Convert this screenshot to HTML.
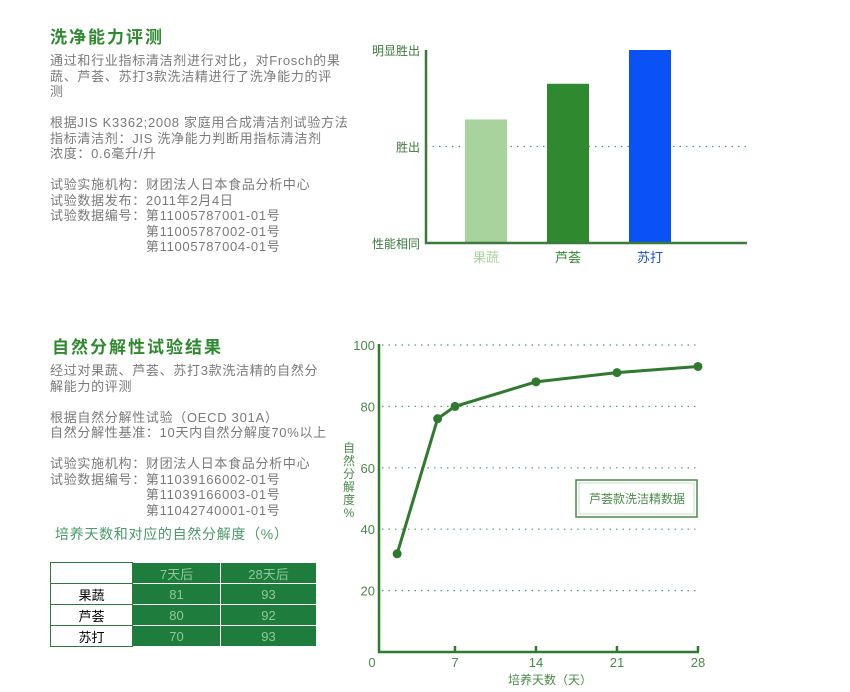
<!DOCTYPE html>
<html><head><meta charset="utf-8"><style>
body{margin:0;width:850px;height:692px;background:#fff;position:relative;font-family:"Liberation Sans","Noto Sans CJK SC",sans-serif;overflow:hidden}
.t{position:absolute;color:#2f8a2f;font-size:17px;font-weight:bold;letter-spacing:2px}
.p{position:absolute;color:#7a7a7a;font-size:13px;line-height:15.5px;white-space:pre;letter-spacing:0.7px}
table{position:absolute;left:50px;top:562px;border-collapse:collapse;font-size:13px}
td{border:1px solid #2a7a3a;height:20px;text-align:center;padding:0}
td.g{background:#1e7d3c;color:#8fc79c;border-color:#fff}
</style></head><body>
<div class="t" style="left:50px;top:23px">洗净能力评测</div>
<div class="p" style="left:50px;top:53px">通过和行业指标清洁剂进行对比，对Frosch的果
蔬、芦荟、苏打3款洗洁精进行了洗净能力的评
测

根据JIS K3362;2008 家庭用合成清洁剂试验方法
指标清洁剂：JIS 洗净能力判断用指标清洁剂
浓度：0.6毫升/升

试验实施机构：财团法人日本食品分析中心
试验数据发布：2011年2月4日
试验数据编号：第11005787001-01号
　　　　　　　第11005787002-01号
　　　　　　　第11005787004-01号</div>

<div class="t" style="left:52px;top:333px">自然分解性试验结果</div>
<div class="p" style="left:50px;top:363px">经过对果蔬、芦荟、苏打3款洗洁精的自然分
解能力的评测

根据自然分解性试验（OECD 301A）
自然分解性基准：10天内自然分解度70%以上

试验实施机构：财团法人日本食品分析中心
试验数据编号：第11039166002-01号
　　　　　　　第11039166003-01号
　　　　　　　第11042740001-01号</div>
<div class="p" style="left:55px;top:527px;color:#4a9a6a;font-size:14px">培养天数和对应的自然分解度（%）</div>
<table>
<tr><td style="width:81px"></td><td class="g" style="width:87px">7天后</td><td class="g" style="width:95px">28天后</td></tr>
<tr><td>果蔬</td><td class="g">81</td><td class="g">93</td></tr>
<tr><td>芦荟</td><td class="g">80</td><td class="g">92</td></tr>
<tr><td>苏打</td><td class="g">70</td><td class="g">93</td></tr>
</table>

<svg id="bar" width="850" height="692" style="position:absolute;left:0;top:0" font-family="Liberation Sans, Noto Sans CJK SC, sans-serif"></svg>

<script>
const barCats=['果蔬','芦荟','苏打'];
const barVals=[1.28,1.65,2.0];
const barTicks=['性能相同','胜出','明显胜出'];
const lineDays=[2,5.5,7,14,21,28];
const lineVals=[32,76,80,88,91,93];
const xTicks=[0,7,14,21,28];
const yTicks=[20,40,60,80,100];

const NS='http://www.w3.org/2000/svg';
const svg=document.getElementById('bar');
function mk(t,a,txt){const e=document.createElementNS(NS,t);for(const k in a)e.setAttribute(k,a[k]);if(txt!==undefined)e.textContent=txt;svg.appendChild(e);return e;}

// bar chart
const by=v=>243-v*96.5;
const bx=i=>465+i*82;
const barColors=['#a8d39c','#2f8a2f','#0a52f5'];
const labColors=['#a8d39c','#2f8a2f','#1b4fc9'];
let e=mk('line',{x1:426,y1:by(1),x2:747,y2:by(1),stroke:'#5a9a6a','stroke-width':1.2,'stroke-dasharray':'1.5 5'});

barVals.forEach((v,i)=>{
 e=mk('rect',{x:bx(i),y:by(v),width:42,height:243-by(v),fill:barColors[i]});
 
 e=mk('text',{x:bx(i)+21,y:262,'text-anchor':'middle','font-size':13,fill:labColors[i]},barCats[i]);
 
});
barTicks.forEach((t,i)=>{
 e=mk('text',{x:420,y:by(i)+5,'text-anchor':'end','font-size':12,fill:'#3b7a3b'},t);
 
});
e=mk('path',{d:'M426 50 V243 H747',fill:'none',stroke:'#3b7a3b','stroke-width':2.5});


// line chart
const lx=d=>374+d*11.57;
const ly=v=>652-v*3.07;
yTicks.forEach(t=>{
 e=mk('line',{x1:382,y1:ly(t),x2:700,y2:ly(t),stroke:'#5a9a6a','stroke-width':1.2,'stroke-dasharray':'1.5 5'});
 
 e=mk('text',{x:375,y:ly(t)+5,'text-anchor':'end','font-size':13,fill:'#4a8a4a'},t);
 
});
xTicks.forEach(t=>{
 e=mk('text',{x:t===0?372:lx(t),y:667,'text-anchor':'middle','font-size':13,fill:'#4a8a4a'},t);
 
 if(t>0){e=mk('line',{x1:lx(t),y1:646,x2:lx(t),y2:652,stroke:'#2f7a2f','stroke-width':2.5});
 }
});
e=mk('path',{d:'M379 344 V652 H699',fill:'none',stroke:'#2f7a2f','stroke-width':2.5});

e=mk('polyline',{points:lineDays.map((d,i)=>lx(d)+','+ly(lineVals[i])).join(' '),fill:'none',stroke:'#2f7a2f','stroke-width':3});

lineDays.forEach((d,i)=>{
 e=mk('circle',{cx:lx(d),cy:ly(lineVals[i]),r:4.5,fill:'#2f7a2f'});
 
});
e=mk('text',{x:550,y:684,'text-anchor':'middle','font-size':12,fill:'#4a8a4a'},'培养天数（天）');

['自','然','分','解','度','%'].forEach((c,i)=>{
 e=mk('text',{x:349,y:452+i*13,'text-anchor':'middle','font-size':12,fill:'#4a8a4a'},c);
 
});
e=mk('rect',{x:576,y:480,width:121,height:37,fill:'#fff',stroke:'#4a8a4a','stroke-width':1.5});

e=mk('rect',{x:579,y:483,width:115,height:31,fill:'none',stroke:'#c8e0c8','stroke-width':1});

e=mk('text',{x:637,y:503,'text-anchor':'middle','font-size':12,fill:'#4a8a4a'},'芦荟款洗洁精数据');

</script>
</body></html>
